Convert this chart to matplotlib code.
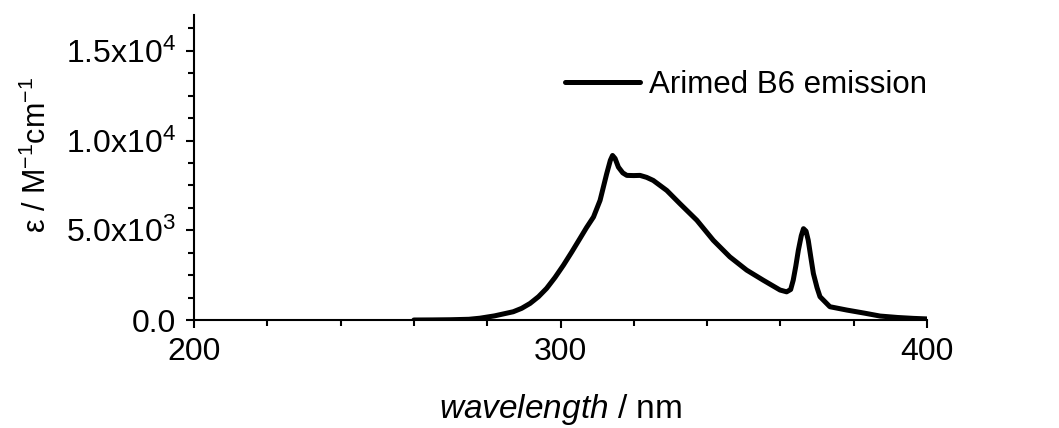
import matplotlib
matplotlib.use("Agg")
import matplotlib.pyplot as plt

plt.rcParams['font.family'] = ['Liberation Sans', 'DejaVu Sans']
plt.rcParams['mathtext.fontset'] = 'custom'
plt.rcParams['mathtext.rm'] = 'Liberation Sans'
plt.rcParams['mathtext.it'] = 'Liberation Sans:italic'

# Data
wavelength = [260.0, 265.0, 270.0, 275.0, 278.0, 282.0, 287.1, 289.4, 291.7, 294.0,
              296.2, 298.5, 300.8, 303.1, 305.3, 307.1, 309.0, 310.8, 312.6, 313.6,
              314.2, 314.9, 315.8, 317.0, 318.1, 320.0, 321.7, 323.5, 325.3, 329.0,
              332.6, 337.2, 341.7, 346.2, 350.8, 355.3, 359.9, 361.7, 362.8, 363.5,
              364.2, 364.9, 365.7, 366.3, 367.0, 367.6, 368.3, 369.0, 370.0, 370.8,
              373.5, 378.1, 383.0, 387.2, 392.0, 396.3, 400.0]
intensity = [0, 5, 15, 40, 100, 230, 460, 650, 925, 1300,
             1760, 2370, 3055, 3800, 4540, 5150, 5740, 6670, 8150, 8900,
             9170, 9000, 8520, 8200, 8060, 8050, 8060, 7950, 7780, 7220,
             6480, 5560, 4440, 3520, 2780, 2220, 1670, 1570, 1700, 2220,
             3000, 3890, 4700, 5090, 4950, 4440, 3500, 2590, 1800, 1300,
             740, 555, 380, 220, 140, 90, 60]
series_label = "Arimed B6 emission"
yticks = [0, 5000, 10000, 15000]
ytick_labels = ["0.0", r"5.0x10$^{3}$", r"1.0x10$^{4}$", r"1.5x10$^{4}$"]
xticks = [200, 300, 400]

fig = plt.figure(figsize=(10.59, 4.28), dpi=100)
ax = fig.add_axes([194/1059, 1-320/428, (927-194)/1059, (320-15)/428])

ax.plot(wavelength, intensity, color='black', lw=3.6, solid_joinstyle='round',
        solid_capstyle='round', label=series_label)

ax.set_xlim(200, 400)
ax.set_ylim(0, 17000)
ax.spines['top'].set_visible(False)
ax.spines['right'].set_visible(False)
for s in ['left', 'bottom']:
    ax.spines[s].set_linewidth(1.5)

ax.set_xticks(xticks)
ax.set_xticks(range(200, 401, 20), minor=True)
ax.set_yticks(yticks)
ax.set_yticklabels(ytick_labels)
ax.set_yticks([i*1250 for i in range(14)], minor=True)

ax.tick_params(axis='both', which='major', direction='out', length=6, width=1.5,
               labelsize=23)
ax.tick_params(axis='both', which='minor', direction='out', length=4, width=1.5)
ax.tick_params(axis='x', which='major', pad=6)
ax.tick_params(axis='y', which='major', pad=7)

ax.set_xlabel(r"$\it{wavelength}$ / nm", fontsize=24)
ax.xaxis.set_label_coords(0.5, -0.235)
ax.set_ylabel(r"ε / M$^{-1}$cm$^{-1}$", fontsize=22)
ax.yaxis.set_label_coords(-0.192, 0.54)

leg = ax.legend(loc='center left', bbox_to_anchor=(565/1059, 1-85/428),
                bbox_transform=fig.transFigure, frameon=False, fontsize=22.5,
                handlelength=2.4, handletextpad=0.3, borderpad=0, borderaxespad=0)

fig.savefig("out.png", dpi=100)
